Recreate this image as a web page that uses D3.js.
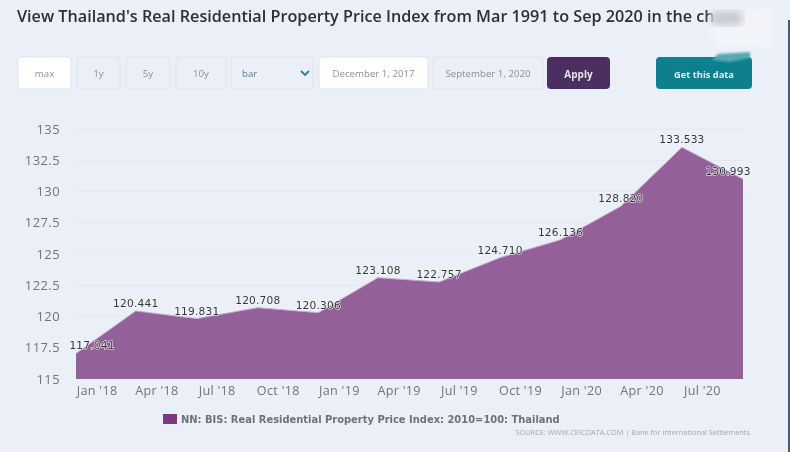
<!DOCTYPE html>
<html>
<head>
<meta charset="utf-8">
<script src="https://cdn.jsdelivr.net/npm/d3@7"></script>
<style>
html, body { margin: 0; padding: 0; background: #ebeff7; overflow: hidden; }
svg { display: block; filter: blur(0.3px); }
text { font-family: "Open Sans", sans-serif; }
</style>
</head>
<body>
<svg width="790" height="452"></svg>
<script>
var dates = ["2017-12-01", "2018-03-01", "2018-06-01", "2018-09-01", "2018-12-01", "2019-03-01",
    "2019-06-01", "2019-09-01", "2019-12-01", "2020-03-01", "2020-06-01", "2020-09-01"];
var values = [117.041, 120.441, 119.831, 120.708, 120.306, 123.108,
    122.757, 124.710, 126.136, 128.820, 133.533, 130.993];
var valueLabels = ["117.041", "120.441", "119.831", "120.708", "120.306", "123.108",
    "122.757", "124.710", "126.136", "128.820", "133.533", "130.993"];
var yTicks = [115, 117.5, 120, 122.5, 125, 127.5, 130, 132.5, 135];
var xTicks = ["2018-01-01", "2018-04-01", "2018-07-01", "2018-10-01", "2019-01-01", "2019-04-01",
    "2019-07-01", "2019-10-01", "2020-01-01", "2020-04-01", "2020-07-01"];
var controlLabels = ["max", "1y", "5y", "10y", "bar", "December 1, 2017", "September 1, 2020"];
var controlLefts = [18, 77, 126, 176, 231, 319, 433];
var controlWidths = [53, 43, 44, 50, 82, 109, 110];

var parseDate = d3.timeParse("%Y-%m-%d");
var svg = d3.select("svg");

var defs = svg.append("defs");
defs.append("filter").attr("id", "smudge").append("feGaussianBlur").attr("stdDeviation", 4);
defs.append("filter").attr("id", "soft").append("feGaussianBlur").attr("stdDeviation", 0.8);

// title
svg.append("text")
    .attr("x", 17).attr("y", 22)
    .attr("fill", "#2b3038")
    .style("font-size", "16.2px")
    .style("font-weight", 600)
    .text("View Thailand's Real Residential Property Price Index from Mar 1991 to Sep 2020 in the ch");

// the smudge over the end of the title
svg.append("rect").attr("x", 712).attr("y", 8).attr("width", 62).attr("height", 40)
    .attr("fill", "#f2f4f9").attr("filter", "url(#smudge)");
svg.append("rect").attr("x", 712).attr("y", 11).attr("width", 30).attr("height", 14)
    .attr("fill", "#c4c7cc").attr("filter", "url(#smudge)");

// controls
var controls = svg.selectAll(".control")
    .data(controlLabels)
    .enter().append("g")
    .attr("class", "control");

controls.append("rect")
    .attr("x", function(d, i) { return controlLefts[i]; })
    .attr("y", 57)
    .attr("width", function(d, i) { return controlWidths[i]; })
    .attr("height", 32)
    .attr("rx", 3)
    .attr("fill", function(d, i) { return i == 0 || i == 5 ? "#ffffff" : "#ebeff7"; })
    .attr("stroke", "#dfe3eb");

controls.append("text")
    .attr("x", function(d, i) {
        return d == "bar" ? controlLefts[i] + 11 : controlLefts[i] + controlWidths[i] / 2;
    })
    .attr("y", 77)
    .attr("text-anchor", function(d) { return d == "bar" ? "start" : "middle"; })
    .attr("fill", function(d) { return d == "bar" ? "#4f7f92" : "#8b8f96"; })
    .style("font-size", "9.7px")
    .text(function(d) { return d; });

// the chevron of the select
svg.append("path")
    .attr("d", d3.line()([[301, 71], [305, 75], [309, 71]]))
    .attr("fill", "none")
    .attr("stroke", "#2f8196")
    .attr("stroke-width", 1.8);

svg.append("rect").attr("x", 547).attr("y", 57).attr("width", 63).attr("height", 32)
    .attr("rx", 4).attr("fill", "#4b2f60");
svg.append("text").attr("x", 578.5).attr("y", 78).attr("text-anchor", "middle")
    .attr("fill", "#e6e3ec").style("font-size", "10px").style("font-weight", 700).text("Apply");

svg.append("rect").attr("x", 656).attr("y", 57).attr("width", 96).attr("height", 32)
    .attr("rx", 4).attr("fill", "#0e7f8c");
svg.append("path")
    .attr("d", d3.line()([[712, 60], [718, 54], [750, 52], [750, 58], [730, 62]]))
    .attr("fill", "#55aab2").attr("filter", "url(#soft)");
svg.append("text").attr("x", 704).attr("y", 78).attr("text-anchor", "middle")
    .attr("fill", "#dceef0").style("font-size", "9.3px").style("font-weight", 700).text("Get this data");

// scales
var x = d3.scaleTime()
    .domain([parseDate(dates[0]), parseDate(dates[dates.length - 1])])
    .range([76, 743]);
var y = d3.scaleLinear().domain([115, 135]).range([379, 129]);

// grid
svg.append("g")
    .selectAll("line")
    .data(yTicks.slice(1))
    .enter().append("line")
    .attr("x1", 76).attr("x2", 743)
    .attr("y1", function(d) { return y(d); })
    .attr("y2", function(d) { return y(d); })
    .attr("stroke", "#e5e8ef");

// area
var points = dates.map(function(d, i) { return { date: parseDate(d), value: values[i] }; });

svg.append("path")
    .datum(points)
    .attr("fill", "#94609a")
    .attr("d", d3.area()
        .x(function(d) { return x(d.date); })
        .y0(y(115))
        .y1(function(d) { return y(d.value); }));

svg.append("path")
    .datum(points)
    .attr("fill", "none")
    .attr("stroke", "#c9abcd")
    .attr("stroke-width", 1)
    .attr("d", d3.line()
        .x(function(d) { return x(d.date); })
        .y(function(d) { return y(d.value); }));

// axes
var yAxis = d3.axisLeft(y)
    .tickValues(yTicks)
    .tickSize(0)
    .tickPadding(16)
    .tickFormat(function(d) { return d; });
var gy = svg.append("g").attr("transform", "translate(76,0)").call(yAxis);
gy.select(".domain").remove();
gy.selectAll("text").attr("fill", "#6f757d").style("font-size", "13px")
    .style("letter-spacing", "0.4px");

var xAxis = d3.axisBottom(x)
    .tickValues(xTicks.map(parseDate))
    .tickSize(0)
    .tickPadding(7)
    .tickFormat(d3.timeFormat("%b '%y"));
var gx = svg.append("g").attr("transform", "translate(0,379)").call(xAxis);
gx.select(".domain").remove();
gx.selectAll("text").attr("fill", "#6f757d").style("font-size", "12.6px")
    .style("letter-spacing", "0.3px");

// value labels, kept inside the plot at both ends
svg.append("g")
    .selectAll("text")
    .data(points)
    .enter().append("text")
    .attr("x", function(d) { return Math.max(92, Math.min(728, x(d.date))); })
    .attr("y", function(d) { return y(d.value) - 4; })
    .attr("text-anchor", "middle")
    .attr("fill", "#33373d")
    .attr("stroke", "#f6f4f8")
    .attr("stroke-width", 1.2)
    .attr("paint-order", "stroke")
    .style("font-family", "DejaVu Sans")
    .style("font-size", "10.6px")
    .style("letter-spacing", "0.2px")
    .text(function(d, i) { return valueLabels[i]; });

// legend
svg.append("rect").attr("x", 163).attr("y", 414).attr("width", 14).attr("height", 10)
    .attr("fill", "#7b3a80");
svg.append("text").attr("x", 181).attr("y", 423)
    .attr("fill", "#6d7279")
    .style("font-family", "DejaVu Sans")
    .style("font-size", "9.93px")
    .style("font-weight", 700)
    .text("NN: BIS: Real Residential Property Price Index: 2010=100: Thailand");

// source
svg.append("text").attr("x", 750).attr("y", 435)
    .attr("text-anchor", "end")
    .attr("fill", "#a3a8af")
    .style("font-size", "7.4px")
    .text("SOURCE: WWW.CEICDATA.COM | Bank for International Settlements");

// dark sliver at the right edge of the screenshot
svg.append("rect").attr("x", 788).attr("y", 20).attr("width", 2).attr("height", 432)
    .attr("fill", "#3d5f80");
</script>
</body>
</html>
